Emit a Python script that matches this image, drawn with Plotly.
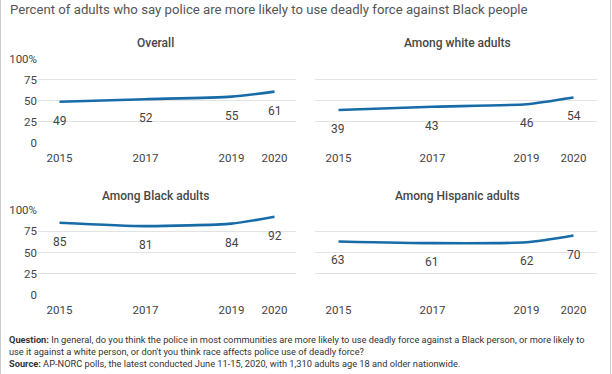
import plotly.graph_objects as go

W, H = 612, 374

years = [2015, 2017, 2019, 2020]
panel_titles = ["Overall", "Among white adults", "Among Black adults", "Among Hispanic adults"]
overall = [49, 52, 55, 61]
white = [39, 43, 46, 54]
black = [85, 81, 84, 92]
hispanic = [63, 61, 62, 70]
series = [overall, white, black, hispanic]
y_ticks = [0, 25, 50, 75, 100]
y_ticktext = ["0", "25", "50", "75", "100%"]

title_text = "Percent of adults who say police are more likely to use deadly force against Black people"
footer_lines = [
    "<b>Question:</b> In general, do you think the police in most communities are more likely to use deadly force against a Black person, or more likely to",
    "use it against a white person, or don't you think race affects police use of deadly force?",
    "<b>Source:</b> AP-NORC polls, the latest conducted June 11-15, 2020, with 1,310 adults age 18 and older nationwide.",
]

LINE = "#176ca7"
TXT = "#444444"
GRID = "#e3e3e3"
FONT = "Roboto"

def px_x(p):
    return p / W

def px_y(p):
    return 1 - p / H

# domains: (x0px, x1px, ytop_px, ybottom_px)
doms = [
    (38, 296, 59, 142.7),
    (315, 597, 59, 142.7),
    (38, 296, 210, 295),
    (315, 597, 210, 295),
]
title_pos = [(155, 43), (457, 43), (155, 196), (457, 196)]

fig = go.Figure()
layout = dict(
    width=W, height=H,
    margin=dict(l=0, r=0, t=0, b=0, autoexpand=False),
    paper_bgcolor="white", plot_bgcolor="white",
    showlegend=False,
    font=dict(family=FONT, color=TXT, size=11),
)
annotations = []
for i, (vals, d) in enumerate(zip(series, doms)):
    n = i + 1
    xa = "x" if n == 1 else f"x{n}"
    ya = "y" if n == 1 else f"y{n}"
    fig.add_trace(go.Scatter(
        x=years, y=vals, mode="lines", xaxis=xa, yaxis=ya,
        line=dict(color=LINE, width=2.6, shape="spline", smoothing=0.6),
        hoverinfo="skip",
    ))
    for yr, v in zip(years, vals):
        annotations.append(dict(
            x=yr, y=v, xref=xa, yref=ya, text=str(v), showarrow=False,
            yshift=-19, font=dict(family=FONT, size=12, color=TXT),
        ))
    x0, x1, yt, yb = d
    layout[f"xaxis{'' if n == 1 else n}"] = dict(
        domain=[px_x(x0), px_x(x1)], range=[2014.5, 2020.5],
        anchor=ya, tickvals=years, ticktext=[str(y) for y in years],
        showgrid=False, zeroline=False, showline=False, automargin=False,
        ticks="outside", ticklen=4, tickcolor="rgba(0,0,0,0)",
        tickfont=dict(family=FONT, size=11.5, color=TXT), fixedrange=True,
    )
    layout[f"yaxis{'' if n == 1 else n}"] = dict(
        domain=[px_y(yb), px_y(yt)], range=[0, 100],
        anchor=xa, tickvals=y_ticks, ticktext=y_ticktext,
        showticklabels=(n in (1, 3)), automargin=False,
        showgrid=True, gridcolor=GRID, gridwidth=1,
        zeroline=False, showline=False, ticks="",
        tickfont=dict(family=FONT, size=11.5, color=TXT), fixedrange=True,
    )
    tx, ty = title_pos[i]
    annotations.append(dict(
        x=px_x(tx), y=px_y(ty), xref="paper", yref="paper", text=panel_titles[i],
        showarrow=False, xanchor="center", yanchor="middle",
        font=dict(family=FONT, size=12, color="#474747", weight=500),
    ))

annotations.append(dict(
    x=px_x(8), y=1, xref="paper", yref="paper", text=title_text,
    showarrow=False, xanchor="left", yanchor="top",
    font=dict(family=FONT, size=13.2, color="#555555"),
))
for k, line in enumerate(footer_lines):
    annotations.append(dict(
        x=px_x(7), y=px_y(339 + 12 * k), xref="paper", yref="paper", text=line,
        showarrow=False, xanchor="left", yanchor="middle",
        font=dict(family=FONT, size=9.25, color="#333333"),
    ))

layout["annotations"] = annotations
layout["shapes"] = [
    dict(type="line", xref="paper", yref="paper", x0=0.5 / W, x1=0.5 / W, y0=0, y1=1,
         line=dict(color="#cccccc", width=1)),
    dict(type="line", xref="paper", yref="paper", x0=1 - 1.5 / W, x1=1 - 1.5 / W, y0=0, y1=1,
         line=dict(color="#cccccc", width=1)),
]
fig.update_layout(**layout)
fig.write_html(
    "out.html",
    config={"displayModeBar": False},
    post_script="document.body.style.margin='0';document.body.style.overflow='hidden';",
)
